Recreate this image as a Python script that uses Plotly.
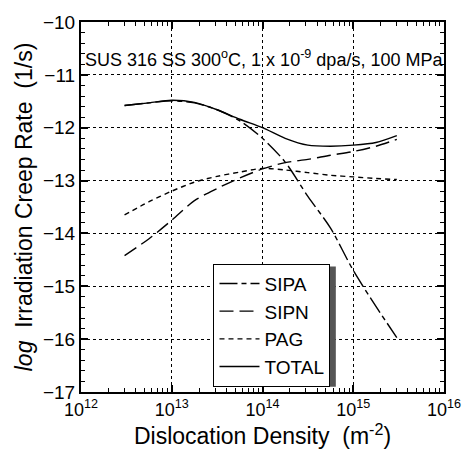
import plotly.graph_objects as go

log_rho = [12.48, 12.75, 13.0, 13.25, 13.5, 13.75, 14.0, 14.25, 14.5, 14.75, 15.0, 15.25, 15.48]
sipa = [-11.58, -11.53, -11.49, -11.53, -11.66, -11.87, -12.2, -12.65, -13.3, -13.9, -14.7, -15.38, -15.97]
sipn = [-14.42, -14.1, -13.75, -13.38, -13.15, -12.95, -12.78, -12.66, -12.6, -12.52, -12.45, -12.35, -12.22]
pag = [-13.65, -13.4, -13.2, -13.03, -12.92, -12.84, -12.77, -12.8, -12.85, -12.9, -12.93, -12.96, -12.98]
total = [-11.58, -11.53, -11.48, -11.52, -11.66, -11.84, -12.0, -12.2, -12.33, -12.35, -12.33, -12.28, -12.15]

rho = [10 ** v for v in log_rho]
xtick_vals = [1e12, 1e13, 1e14, 1e15, 1e16]
xtick_text = ["10<sup>12</sup>", "10<sup>13</sup>", "10<sup>14</sup>", "10<sup>15</sup>", "10<sup>16</sup>"]
ytick_vals = [-10, -11, -12, -13, -14, -15, -16, -17]

fig = go.Figure()
series = [("SIPA", sipa, "18px,4px,5px,4px"), ("SIPN", sipn, "14px,6px"),
          ("PAG", pag, "5px,4px"), ("TOTAL", total, "solid")]
for name, ys, dash in series:
    fig.add_trace(go.Scatter(x=rho, y=ys, mode="lines", name=name,
                             line=dict(color="black", width=1.4, dash=dash, shape="spline", smoothing=0.8)))

font = "Liberation Sans, Arial, sans-serif"
fig.update_layout(
    width=473, height=456,
    margin=dict(l=81, r=19, t=20, b=64),
    paper_bgcolor="white", plot_bgcolor="white",
    font=dict(family=font, color="black", size=18),
    showlegend=True,
    legend=dict(x=0.365, y=0.347, xanchor="left", yanchor="top",
                bgcolor="white", bordercolor="black", borderwidth=1,
                font=dict(size=19, family=font), tracegroupgap=0,
                itemwidth=40),
    xaxis=dict(type="log", range=[12, 16], tickvals=xtick_vals, ticktext=xtick_text,
               showline=True, linecolor="black", linewidth=2, mirror="ticks",
               ticks="inside", ticklen=7, tickwidth=1.5, tickcolor="black",
               showgrid=True, gridcolor="black", griddash="dot", gridwidth=1,
               minor=dict(ticks="inside", ticklen=4, tickcolor="black", tickwidth=1.2,
                          dtick="D1", showgrid=False),
               tickfont=dict(size=18),
               title=dict(text="Dislocation Density  (m<sup>-2</sup>)", font=dict(size=23), standoff=4),
               zeroline=False),
    yaxis=dict(range=[-17, -10], tickvals=ytick_vals,
               showline=True, linecolor="black", linewidth=2, mirror="ticks",
               ticks="inside", ticklen=7, tickwidth=1.5, tickcolor="black",
               showgrid=True, gridcolor="black", griddash="dot", gridwidth=1,
               minor=dict(ticks="inside", ticklen=4, tickcolor="black", tickwidth=1.2,
                          dtick=0.2, showgrid=False),
               tickfont=dict(size=19),
               title=dict(text="<i>log</i>  Irradiation Creep Rate  (1/s)", font=dict(size=23), standoff=4),
               zeroline=False),
)

fig.add_annotation(text="SUS 316 SS 300<sup>o</sup>C, 1 x 10<sup>-9</sup> dpa/s, 100 MPa",
                   xref="paper", yref="paper", x=0.005, y=0.9, xanchor="left", yanchor="middle",
                   showarrow=False, font=dict(size=18, family=font, color="black"))

# legend drop shadow
fig.add_shape(type="rect", xref="paper", yref="paper",
              x0=0.373, x1=0.702, y0=0.014, y1=0.339,
              fillcolor="#555555", line=dict(width=0), layer="above")

fig.write_html("out.html", config={"displayModeBar": False},
               post_script="document.body.style.margin='0';document.body.style.overflow='hidden';")
